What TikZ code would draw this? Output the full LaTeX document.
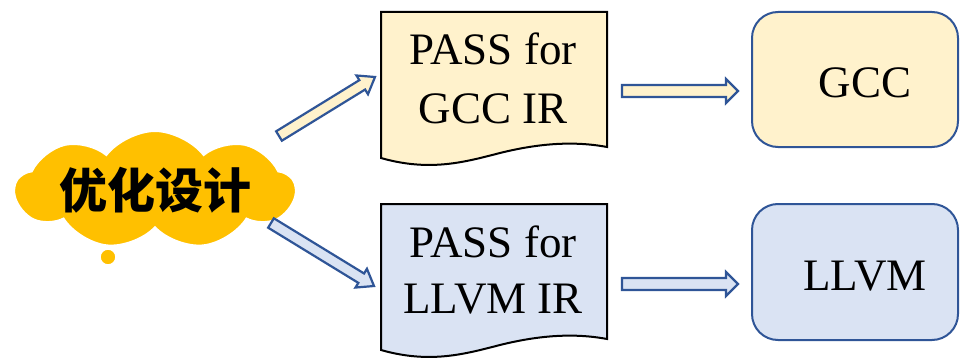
\documentclass[tikz,border=0pt]{standalone}
\usepackage{fontspec}
\setmainfont{Liberation Serif}
\newfontfamily\cjkfont{Noto Sans CJK SC}
\usetikzlibrary{calc,shapes.symbols}
\definecolor{cloudyel}{HTML}{FFC000}
\definecolor{lightyel}{HTML}{FFF2CC}
\definecolor{lightblue}{HTML}{DAE3F3}
\definecolor{darkblue}{HTML}{2F5597}
\tikzset{
  doctext/.style={anchor=base, font=\fontsize{45}{50}\selectfont, inner sep=0pt},
  doc/.style={draw=black, line width=2pt, line join=miter},
  rbox/.style={draw=darkblue, line width=2pt, rounded corners=26pt},
  arrowline/.style={draw=darkblue, line width=2.2pt, line join=miter},
}
% block arrow: from, to, fill, shaft half width, head half width, head length
\newcommand{\blockarr}[6]{%
  \coordinate (ba-n) at ($(#2)!#6!(#1)$);
  \draw[arrowline, fill=#3]
    ($(#1)!#4!90:(#2)$) -- ($(ba-n)!#4!90:(#2)$) -- ($(ba-n)!#5!90:(#2)$) -- (#2)
    -- ($(ba-n)!#5!-90:(#2)$) -- ($(ba-n)!#4!-90:(#2)$) -- ($(#1)!#4!-90:(#2)$) -- cycle;
}
\begin{document}
\begin{tikzpicture}[x=1pt,y=-1pt]
\useasboundingbox (0,0) rectangle (961,361);

% cloud
\node[cloud, cloud puffs=9, cloud puff arc=105, aspect=2.4,
      minimum width=280pt, minimum height=118pt, inner sep=0pt,
      fill=cloudyel, draw=white, line width=2pt] (cloud) at (155,190) {};
\node[circle, fill=cloudyel, draw=white, line width=1.5pt, minimum size=16pt, inner sep=0pt] (bubble) at (108,257) {};
\node[font=\cjkfont\bfseries\fontsize{48}{48}\selectfont, inner sep=0pt] (title) at (155,190) {优化设计};

% documents
\draw[doc, fill=lightyel] (381,12) -- (607,12) -- (607,147)
  .. controls (575,141) and (540,143) .. (500,153)
  .. controls (465,162) and (430,172) .. (381,158) -- cycle;
\draw[doc, fill=lightblue] (381,204) -- (607,204) -- (607,339)
  .. controls (575,333) and (540,335) .. (500,345)
  .. controls (465,354) and (430,364) .. (381,350) -- cycle;
\node[doctext] (p1a) at (493,65) {PASS for};
\node[doctext] (p1b) at (493,123) {GCC IR};
\node[doctext] (p2a) at (493,257) {PASS for};
\node[doctext] (p2b) at (493,313) {LLVM IR};

% right boxes
\draw[rbox, fill=lightyel] (752,12) rectangle (958,147);
\draw[rbox, fill=lightblue] (752,204) rectangle (958,340);
\node[doctext] (gcc) at (865,97) {GCC};
\node[doctext] (llvm) at (865,290) {LLVM};

% arrows
\coordinate (a1s) at (279,136);
\coordinate (a1e) at (375,77);
\coordinate (a2s) at (271,223);
\coordinate (a2e) at (374,286);
\coordinate (a3s) at (622,91);
\coordinate (a3e) at (738,91);
\coordinate (a4s) at (622,284);
\coordinate (a4e) at (738,284);
\blockarr{a1s}{a1e}{lightyel}{5.5pt}{11pt}{15pt}
\blockarr{a2s}{a2e}{lightblue}{5.5pt}{11pt}{15pt}
\blockarr{a3s}{a3e}{lightyel}{6pt}{12pt}{12pt}
\blockarr{a4s}{a4e}{lightblue}{6pt}{12pt}{12pt}
\end{tikzpicture}
\end{document}
